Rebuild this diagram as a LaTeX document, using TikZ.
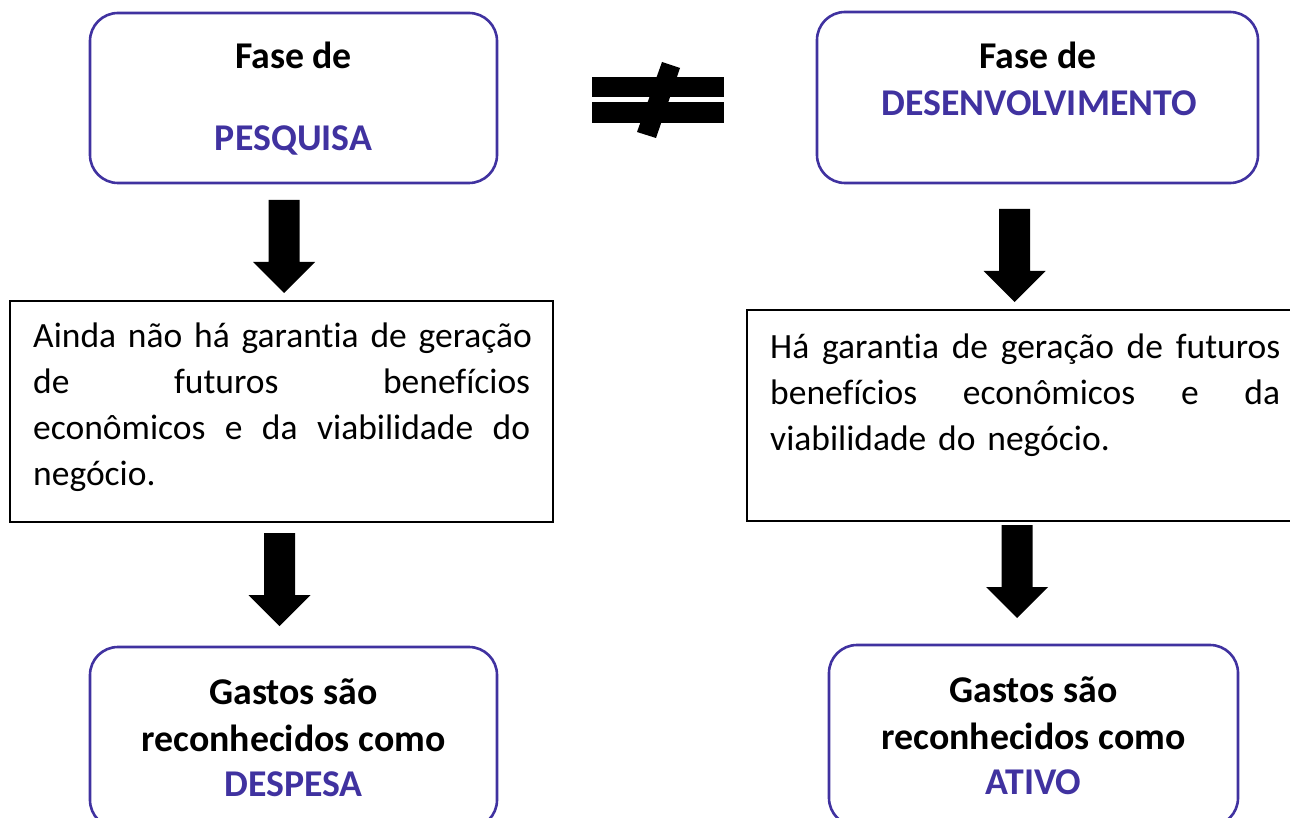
\documentclass[tikz,border=0pt]{standalone}
\usepackage{fontspec}
\setmainfont{Carlito}[Ligatures=NoCommon]
\definecolor{fase}{RGB}{64,50,160}
\newcommand\blkarrow[4]{%
  \fill[black] (#1-15.5,#2) -- (#1+15.5,#2) -- (#1+15.5,#3) -- (#1+31,#3)
    -- (#1,#4) -- (#1-31,#3) -- (#1-15.5,#3) -- cycle;}
\begin{document}
\begin{tikzpicture}[x=1pt,y=-1pt,
  phase/.style={draw=fase, line width=2.6pt, rounded corners=28pt, inner sep=0pt},
  txtbox/.style={draw=black, line width=2.5pt, inner sep=0pt},
  lbl/.style={font=\bfseries\fontsize{37.8}{45}\selectfont, inner sep=0pt, anchor=base},
  hl/.style={lbl, text=fase},
  body/.style={font=\fontsize{35.5}{46}\selectfont, inner sep=0pt, anchor=base west, align=left}]
\useasboundingbox (0,0) rectangle (1290,818);
\clip (0,0) rectangle (1290,818);

% top phase boxes
\node[phase, minimum width=407pt, minimum height=170pt] (pesq) at (293.5,98) {};
\node[phase, minimum width=441pt, minimum height=171pt] (desenv) at (1037.5,97.5) {};
\node[lbl] (pesqa) at (293.5,69) {Fase de};
\node[hl]  (pesqb) at (293.5,151) {PESQUISA};
\node[lbl] (desa) at (1038,69) {Fase de};
\node[hl]  (desb) at (1039,116) {DESENVOLVIMENTO};

% not equal sign
\fill[black] (592,77) rectangle (724,97);
\fill[black] (592,102) rectangle (724,123);
\fill[black] (662,62) -- (680,68) -- (656,138) -- (637,132) -- cycle;

% middle text boxes
\node[txtbox, minimum width=543pt, minimum height=221pt] (tbl) at (281.5,411.5) {};
\node[txtbox, minimum width=563pt, minimum height=211pt] (tbr) at (1028.5,415.5) {};
\node[body, text width=497pt] (tl) at (33,347) {%
  \makebox[497pt][l]{Ainda \hfill não \hfill há \hfill garantia \hfill de \hfill geração}\\
  \makebox[497pt][l]{de \hfill futuros \hfill benefícios}\\
  \makebox[497pt][l]{econômicos \hfill e \hfill da \hfill viabilidade \hfill do}\\
  negócio.};
\node[body, text width=510pt] (tr) at (770,358) {%
  \makebox[510pt][l]{Há \hfill garantia \hfill de \hfill geração \hfill de \hfill futuros}\\
  \makebox[510pt][l]{benefícios \hfill econômicos \hfill e \hfill da}\\
  viabilidade do negócio.};

% bottom boxes
\node[phase, minimum width=407pt, minimum height=181pt] (desp) at (293.5,737.5) {};
\node[phase, minimum width=409pt, minimum height=181pt] (ativ) at (1033.5,735.5) {};
\node[lbl] (despa) at (293.5,704) {Gastos são};
\node[lbl] (despb) at (293.5,751) {reconhecidos como};
\node[hl]  (despc) at (293.5,796) {DESPESA};
\node[lbl] (ativa) at (1033.5,702) {Gastos são};
\node[lbl] (ativb) at (1033.5,749) {reconhecidos como};
\node[hl]  (ativc) at (1033.5,794) {ATIVO};

% block arrows
\blkarrow{284}{200}{262}{293}
\blkarrow{279.5}{533}{595}{626}
\blkarrow{1014.5}{209}{271}{302}
\blkarrow{1017}{525}{587}{618}
\end{tikzpicture}
\end{document}
